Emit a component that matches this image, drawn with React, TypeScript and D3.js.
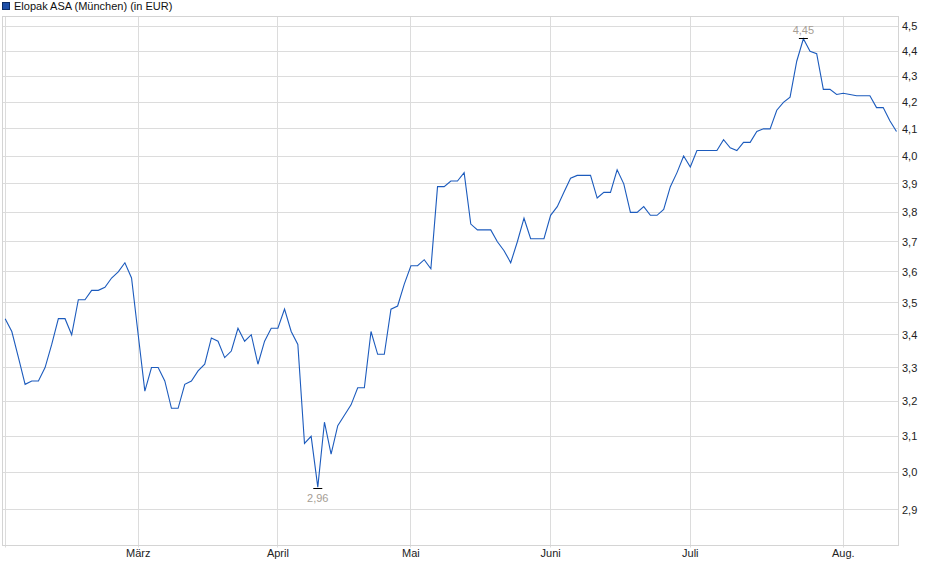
import React from "react";
import * as d3 from "d3";

// Daily closing prices (EUR), trading days from early Feb to mid Aug
const closes: number[] = [
  3.45, 3.41, 3.33, 3.25, 3.26, 3.26, 3.30, 3.37, 3.45, 3.45,
  3.40, 3.51, 3.51, 3.54, 3.54, 3.55, 3.58, 3.60, 3.63, 3.58,
  3.40, 3.23, 3.30, 3.30, 3.26, 3.18, 3.18, 3.25, 3.26, 3.29,
  3.31, 3.39, 3.38, 3.33, 3.35, 3.42, 3.38, 3.40, 3.31, 3.38,
  3.42, 3.42, 3.48, 3.41, 3.37, 3.08, 3.10, 2.96, 3.14, 3.05,
  3.13, 3.16, 3.19, 3.24, 3.24, 3.41, 3.34, 3.34, 3.48, 3.49,
  3.56, 3.62, 3.62, 3.64, 3.61, 3.89, 3.89, 3.91, 3.91, 3.94,
  3.76, 3.74, 3.74, 3.74, 3.70, 3.67, 3.63, 3.70, 3.78, 3.71,
  3.71, 3.71, 3.79, 3.82, 3.87, 3.92, 3.93, 3.93, 3.93, 3.85,
  3.87, 3.87, 3.95, 3.90, 3.80, 3.80, 3.82, 3.79, 3.79, 3.81,
  3.89, 3.94, 4.00, 3.96, 4.02, 4.02, 4.02, 4.02, 4.06, 4.03,
  4.02, 4.05, 4.05, 4.09, 4.10, 4.10, 4.17, 4.20, 4.22, 4.36,
  4.45, 4.40, 4.39, 4.25, 4.25, 4.23, 4.235, 4.23, 4.225, 4.225,
  4.225, 4.18, 4.18, 4.13, 4.09,
];

const monthLabels: string[] = ["", "März", "April", "Mai", "Juni", "Juli", "Aug."];
const monthTickIndex: number[] = [0, 20, 41, 61, 82, 103, 126];
const yTickValues: number[] = [2.9, 3.0, 3.1, 3.2, 3.3, 3.4, 3.5, 3.6, 3.7, 3.8, 3.9, 4.0, 4.1, 4.2, 4.3, 4.4, 4.5];
const title = "Elopak ASA (München) (in EUR)";

const W = 940;
const H = 579;
const plot = { left: 2.5, right: 898.5, top: 16.5, bottom: 545.5 };
const FONT = "Arial, 'Liberation Sans', Helvetica, sans-serif";

const fmt = (v: number, d: number) => d3.format(`.${d}f`)(v).replace(".", ",");

export default function App() {
  const x = d3.scaleLinear().domain([-0.4, 134.3]).range([plot.left, plot.right]);
  const y = d3.scaleLog().domain([2.807, 4.541]).range([plot.bottom, plot.top]);
  const line = d3
    .line<number>()
    .x((_, i) => x(i))
    .y((d) => y(d));

  const maxI = d3.maxIndex(closes);
  const minI = d3.minIndex(closes);
  const snap = (v: number) => Math.round(v - 0.5) + 0.5;

  return (
    <svg
      width={W}
      height={H}
      style={{ position: "absolute", left: 0, top: 0, background: "#fff" }}
      fontFamily={FONT}
    >
      {/* legend */}
      <rect x={2.5} y={2.5} width={7} height={7} fill="#1d4fa8" stroke="#0b2c66" strokeWidth={1} />
      <text x={14} y={10} fontSize={11} fill="#111">
        {title}
      </text>

      {/* horizontal gridlines */}
      {yTickValues.map((v) => (
        <line
          key={"h" + v}
          x1={plot.left}
          x2={plot.right}
          y1={snap(y(v))}
          y2={snap(y(v))}
          stroke="#dcdcdc"
          strokeWidth={1}
        />
      ))}
      {/* vertical gridlines / month ticks */}
      {monthTickIndex.map((idx, k) => (
        <line
          key={"v" + k}
          x1={snap(x(idx))}
          x2={snap(x(idx))}
          y1={plot.top}
          y2={plot.bottom + 2}
          stroke="#dcdcdc"
          strokeWidth={1}
        />
      ))}
      {/* frame */}
      <rect
        x={plot.left}
        y={plot.top}
        width={plot.right - plot.left}
        height={plot.bottom - plot.top}
        fill="none"
        stroke="#d4d4d4"
        strokeWidth={1}
      />

      {/* y tick labels */}
      {yTickValues.map((v) => (
        <text key={"t" + v} x={902} y={y(v) + 4} fontSize={11} fill="#222">
          {fmt(v, 1)}
        </text>
      ))}
      {/* month labels */}
      {monthLabels.map((lab, k) =>
        lab ? (
          <text key={"m" + k} x={x(monthTickIndex[k])} y={557} fontSize={11} fill="#222" textAnchor="middle">
            {lab}
          </text>
        ) : null
      )}

      {/* price line */}
      <path d={line(closes) || ""} fill="none" stroke="#1c5bbd" strokeWidth={1.1} />

      {/* max marker */}
      <line x1={x(maxI) - 4.5} x2={x(maxI) + 4.5} y1={snap(y(closes[maxI]))} y2={snap(y(closes[maxI]))} stroke="#000" strokeWidth={1} />
      <text x={x(maxI)} y={y(closes[maxI]) - 5} fontSize={11} fill="#a59d94" textAnchor="middle">
        {fmt(closes[maxI], 2)}
      </text>
      {/* min marker */}
      <line x1={x(minI) - 4.5} x2={x(minI) + 4.5} y1={snap(y(closes[minI]) + 1)} y2={snap(y(closes[minI]) + 1)} stroke="#000" strokeWidth={1} />
      <text x={x(minI)} y={y(closes[minI]) + 15} fontSize={11} fill="#a59d94" textAnchor="middle">
        {fmt(closes[minI], 2)}
      </text>
    </svg>
  );
}
